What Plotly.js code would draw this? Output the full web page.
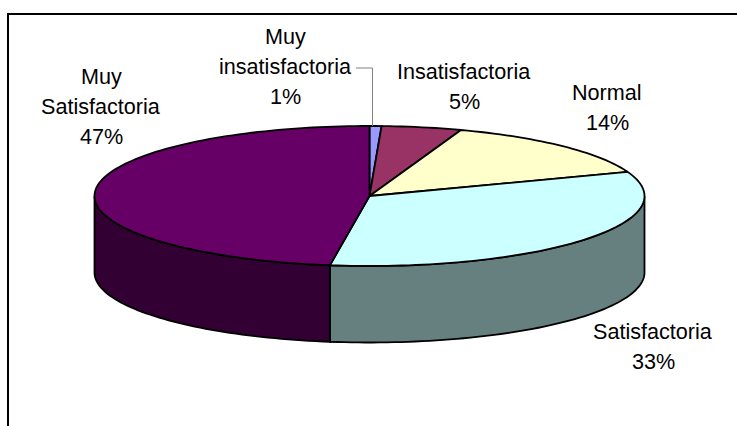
<!DOCTYPE html>
<html>
<head>
<meta charset="utf-8">
<script src="https://cdn.plot.ly/plotly-3.0.1.min.js"></script>
<style>html,body{margin:0;padding:0;background:#fff}#chart{width:737px;height:426px}</style>
</head>
<body>
<div id="chart"></div>
<script>
// data
var categories = ["Muy insatisfactoria", "Insatisfactoria", "Normal", "Satisfactoria", "Muy Satisfactoria"];
var values = [0.7, 4.7, 14.0, 32.9, 47.7];
var percentLabels = ["1%", "5%", "14%", "33%", "47%"];
var topColors = ["#9999FF", "#993366", "#FFFFCC", "#CCFFFF", "#660066"];
var wallColors = ["#4D4D80", "#4D1A33", "#808066", "#668080", "#330033"];
var labelLines = [["Muy", "insatisfactoria"], ["Insatisfactoria"], ["Normal"], ["Satisfactoria"], ["Muy", "Satisfactoria"]];

// layout geometry
var W = 737, H = 426;
var cx = 369.5, cy = 196, rx = 275, ry = 70, depth = 76.5;
var labelCenters = [[285.5, 36], [464, 71], [607, 92], [653, 331], [101, 76]];
var lineStep = 30.3;
var fontFamily = "Liberation Sans, Arial, sans-serif";
var fontSize = 21.6;

function pt(deg, dy) {
  var t = deg * Math.PI / 180;
  return [cx + rx * Math.sin(t), cy - ry * Math.cos(t) + (dy || 0)];
}
function arc(a, b, dy) {
  var out = [], n = Math.max(2, Math.ceil(Math.abs(b - a) / 1.5));
  for (var i = 0; i <= n; i++) out.push(pt(a + (b - a) * i / n, dy));
  return out;
}
function polyTrace(points, fill) {
  return {
    type: "scatter", mode: "lines", fill: "toself", fillcolor: fill,
    x: points.map(function (p) { return p[0]; }),
    y: points.map(function (p) { return p[1]; }),
    line: { color: "#000000", width: 1.8, simplify: false },
    hoverinfo: "skip", showlegend: false
  };
}

var total = values.reduce(function (s, v) { return s + v; }, 0);
var starts = [], ends = [], acc = 0;
values.forEach(function (v) {
  starts.push(acc / total * 360);
  acc += v;
  ends.push(acc / total * 360);
});

var traces = [];
// visible side walls (front half of the disc)
values.forEach(function (v, i) {
  var a = Math.max(starts[i], 90), b = Math.min(ends[i], 270);
  if (b <= a) return;
  var pts = arc(a, b, 0).concat(arc(b, a, depth));
  pts.push(pts[0]);
  traces.push(polyTrace(pts, wallColors[i]));
});
// top slices
values.forEach(function (v, i) {
  var pts = [[cx, cy]].concat(arc(starts[i], ends[i], 0));
  pts.push([cx, cy]);
  traces.push(polyTrace(pts, topColors[i]));
});

// labels
var annotations = [];
values.forEach(function (v, i) {
  var lines = labelLines[i].concat([percentLabels[i]]);
  lines.forEach(function (txt, j) {
    annotations.push({
      x: labelCenters[i][0], y: labelCenters[i][1] + j * lineStep,
      xref: "x", yref: "y", text: txt, showarrow: false,
      xanchor: "center", yanchor: "middle",
      font: { family: fontFamily, size: fontSize, color: "#000000" }
    });
  });
});

// leader line for the smallest slice
var leadTop = pt(ends[0] * 0.25, 0);
traces.push({
  type: "scatter", mode: "lines",
  x: [356, leadTop[0], leadTop[0]], y: [68, 68, leadTop[1]],
  line: { color: "#808080", width: 1 }, hoverinfo: "skip", showlegend: false
});

var layout = {
  width: W, height: H,
  margin: { l: 0, r: 0, t: 0, b: 0 },
  paper_bgcolor: "#ffffff", plot_bgcolor: "#ffffff",
  showlegend: false,
  xaxis: { range: [0, W], visible: false, fixedrange: true },
  yaxis: { range: [H, 0], visible: false, fixedrange: true },
  annotations: annotations,
  shapes: [
    { type: "line", xref: "x", yref: "y", x0: 7, x1: W, y0: 14, y1: 14, line: { color: "#000", width: 2 } },
    { type: "line", xref: "x", yref: "y", x0: 8, x1: 8, y0: 14, y1: H, line: { color: "#000", width: 2 } }
  ]
};
Plotly.newPlot("chart", traces, layout, { displayModeBar: false, staticPlot: true });
</script>
</body>
</html>
